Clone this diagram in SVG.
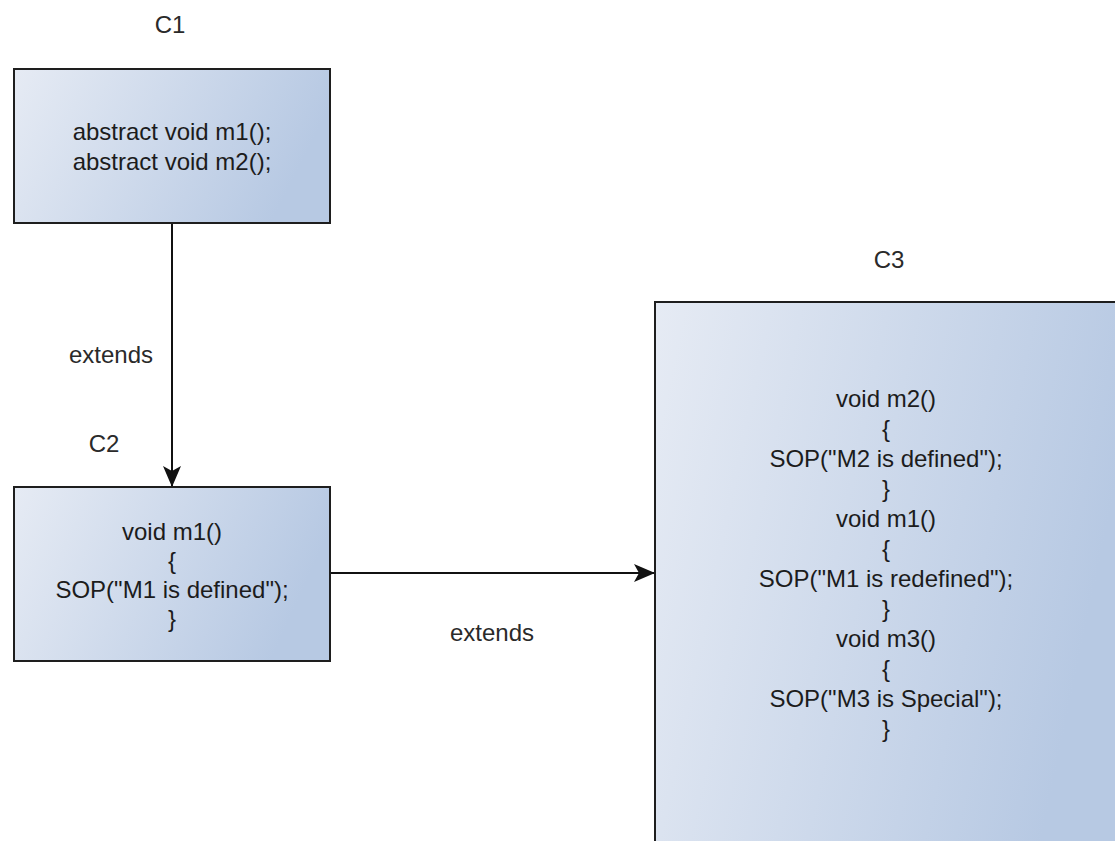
<svg xmlns="http://www.w3.org/2000/svg" width="1115" height="841" viewBox="0 0 1115 841">
  <style>
    .box { stroke: #1e1e1e; stroke-width: 2; fill: url(#boxFill); }
    .code { font-family: "Liberation Sans", Arial, sans-serif; font-size: 24px; fill: #1c1c1c; text-anchor: middle; }
    .label { font-family: "Liberation Sans", Arial, sans-serif; font-size: 24px; fill: #2a2a2a; text-anchor: middle; }
    .edge { stroke: #111; stroke-width: 2; fill: none; marker-end: url(#classic); }
  </style>
  <defs>
    <linearGradient id="boxFill" x1="0" y1="0" x2="1" y2="0.25">
      <stop offset="0" stop-color="#e6ebf4"/>
      <stop offset="1" stop-color="#b7c9e3"/>
    </linearGradient>
    <marker id="classic" markerUnits="userSpaceOnUse" markerWidth="24" markerHeight="22" viewBox="-1 -11 24 22" refX="21" refY="0" orient="auto">
      <path d="M0,-9 L21,0 L0,9 L5,0 Z" fill="#111"/>
    </marker>
  </defs>

  <!-- inheritance connectors -->
  <g id="connectors">
    <path class="edge" d="M172,223 L172,487"/>
    <text class="label" x="111" y="363">extends</text>
    <path class="edge" d="M330,573 L655,573"/>
    <text class="label" x="492" y="641">extends</text>
  </g>

  <!-- abstract class C1 -->
  <g id="c1">
    <text class="label" x="170" y="33">C1</text>
    <rect class="box" x="14" y="69" width="316" height="154"/>
    <text class="code" x="172" y="140">abstract void m1();</text>
    <text class="code" x="172" y="170">abstract void m2();</text>
  </g>

  <!-- class C2 -->
  <g id="c2">
    <text class="label" x="104" y="452">C2</text>
    <rect class="box" x="14" y="487" width="316" height="174"/>
    <text class="code" x="172" y="540">void m1()</text>
    <text class="code" x="172" y="569">{</text>
    <text class="code" x="172" y="598">SOP("M1 is defined");</text>
    <text class="code" x="172" y="627">}</text>
  </g>

  <!-- class C3 -->
  <g id="c3">
    <text class="label" x="889" y="268">C3</text>
    <rect class="box" x="655" y="302" width="470" height="560"/>
    <text class="code" x="886" y="407">void m2()</text>
    <text class="code" x="886" y="437">{</text>
    <text class="code" x="886" y="467">SOP("M2 is defined");</text>
    <text class="code" x="886" y="497">}</text>
    <text class="code" x="886" y="527">void m1()</text>
    <text class="code" x="886" y="557">{</text>
    <text class="code" x="886" y="587">SOP("M1 is redefined");</text>
    <text class="code" x="886" y="617">}</text>
    <text class="code" x="886" y="647">void m3()</text>
    <text class="code" x="886" y="677">{</text>
    <text class="code" x="886" y="707">SOP("M3 is Special");</text>
    <text class="code" x="886" y="737">}</text>
  </g>
</svg>
